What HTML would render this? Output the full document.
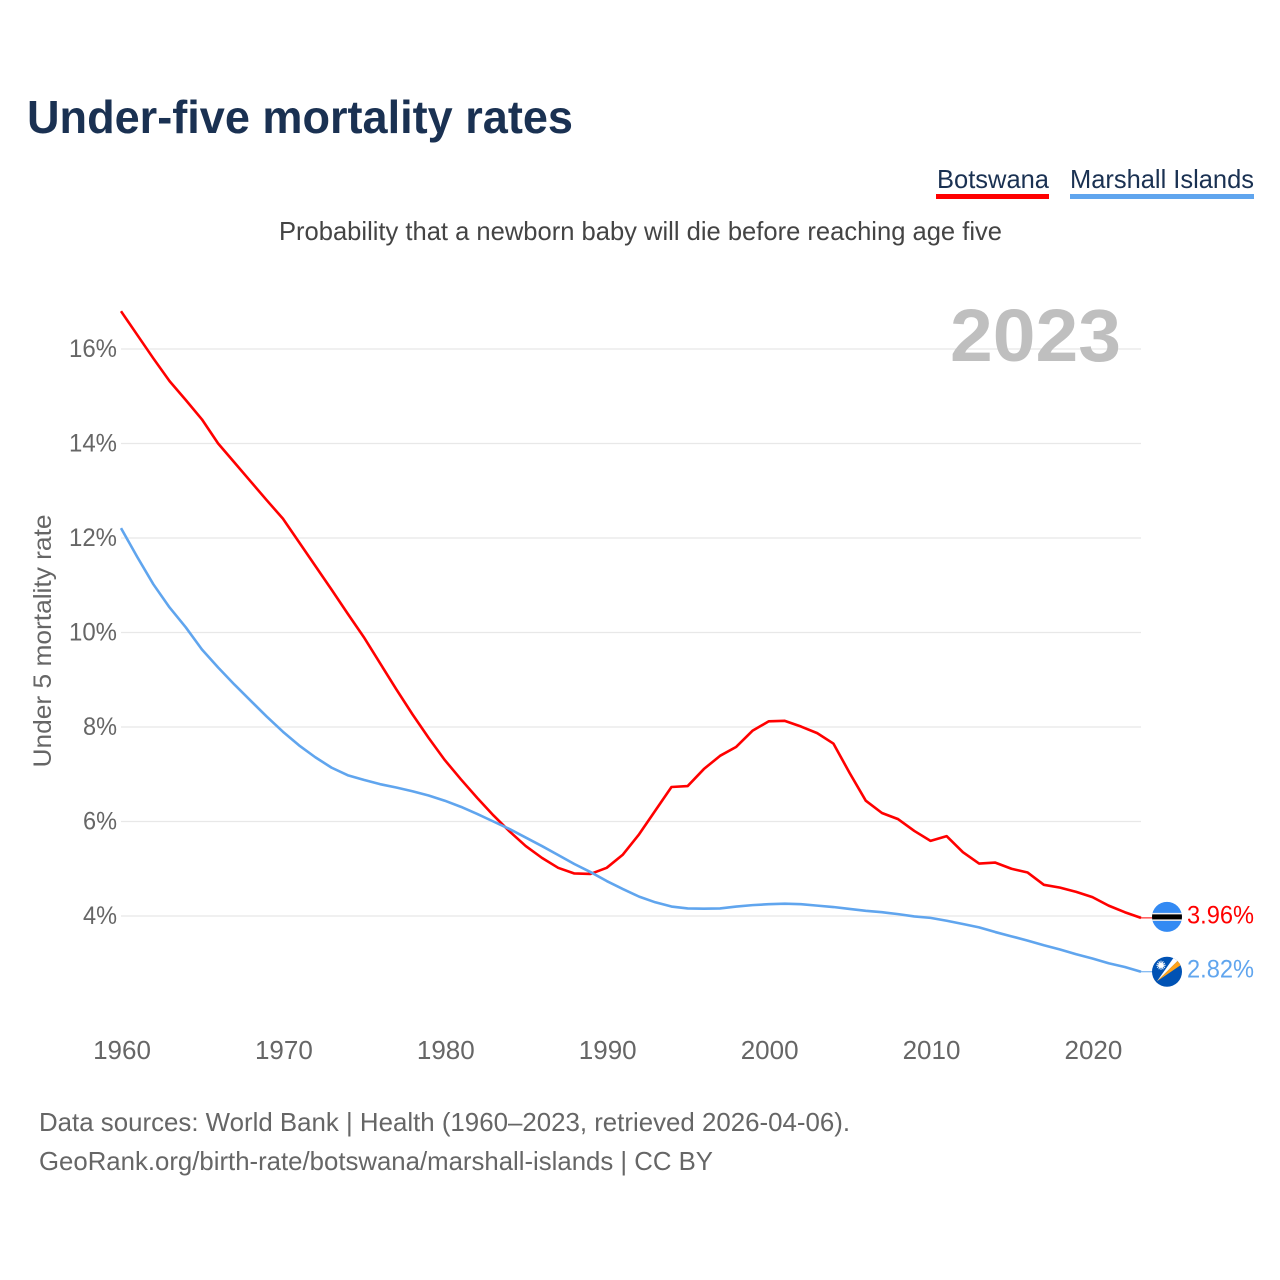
<!DOCTYPE html>
<html lang="en">
<head>
<meta charset="utf-8">
<title>Under-five mortality rates</title>
<style>
html,body{margin:0;padding:0;background:#fff;}
svg{display:block;font-family:"Liberation Sans",sans-serif;}
</style>
</head>
<body>
<svg id="chart" width="1280" height="1280" viewBox="0 0 1280 1280" xmlns="http://www.w3.org/2000/svg">
  <defs>
    <clipPath id="clip-bw"><circle id="clip-bw-c" cx="1167" cy="917" r="15"></circle></clipPath>
    <clipPath id="clip-mh"><circle id="clip-mh-c" cx="1167" cy="971" r="15"></circle></clipPath>
  </defs>
  <rect width="1280" height="1280" fill="#fff"></rect>
  <text x="27" y="133" font-size="46" font-weight="700" fill="#1a3152" textLength="546" lengthAdjust="spacingAndGlyphs">Under-five mortality rates</text>
  <g>
    <g style="cursor:pointer">
      <text x="937" y="188" font-size="26" fill="#1a3152" textLength="112" lengthAdjust="spacingAndGlyphs">Botswana</text>
      <rect x="936" y="194" width="113" height="5" fill="#ff0000"></rect>
    </g>
    <g style="cursor:pointer">
      <text x="1070" y="188" font-size="26" fill="#1a3152" textLength="184" lengthAdjust="spacingAndGlyphs">Marshall Islands</text>
      <rect x="1070" y="194" width="184" height="5" fill="#60a5ee"></rect>
    </g>
  </g>
  <text x="279" y="240" font-size="26" fill="#444444" textLength="723" lengthAdjust="spacingAndGlyphs">Probability that a newborn baby will die before reaching age five</text>
  <g id="grid"></g>
  <g id="yticks"></g>
  <g id="xticks"></g>
  <text transform="translate(51 641) rotate(-90)" text-anchor="middle" font-size="25" fill="#666666" textLength="253" lengthAdjust="spacingAndGlyphs">Under 5 mortality rate</text>
  <text x="950" y="361" font-size="74" font-weight="700" fill="#bfbfbf" textLength="171" lengthAdjust="spacingAndGlyphs">2023</text>
  <g id="series"></g>
  <g id="ends"></g>
  <text x="39" y="1131" font-size="26" fill="#666666" textLength="811" lengthAdjust="spacingAndGlyphs">Data sources: World Bank | Health (1960–2023, retrieved 2026-04-06).</text>
  <text x="39" y="1170" font-size="26" fill="#666666" textLength="674" lengthAdjust="spacingAndGlyphs">GeoRank.org/birth-rate/botswana/marshall-islands | CC BY</text>
</svg>
<script>
const startYear = 1960;
const botswanaValues = [16.80,16.30,15.80,15.32,14.92,14.51,14.00,13.60,13.20,12.80,12.41,11.91,11.41,10.91,10.40,9.90,9.35,8.80,8.27,7.77,7.30,6.89,6.50,6.13,5.79,5.48,5.23,5.02,4.90,4.89,5.02,5.30,5.73,6.23,6.73,6.75,7.11,7.39,7.58,7.92,8.12,8.13,8.01,7.87,7.65,7.03,6.44,6.18,6.05,5.80,5.59,5.69,5.35,5.11,5.13,5.00,4.92,4.66,4.60,4.51,4.40,4.22,4.08,3.96];
const marshallValues = [12.21,11.60,11.02,10.53,10.11,9.64,9.26,8.90,8.56,8.22,7.90,7.61,7.36,7.14,6.98,6.88,6.79,6.72,6.64,6.55,6.44,6.31,6.16,6.00,5.84,5.66,5.48,5.29,5.10,4.93,4.74,4.57,4.41,4.29,4.20,4.16,4.155,4.16,4.20,4.23,4.25,4.26,4.25,4.22,4.19,4.15,4.11,4.08,4.04,3.99,3.96,3.90,3.83,3.76,3.66,3.57,3.48,3.38,3.29,3.19,3.10,3.00,2.92,2.82];
const yTickValues = [4,6,8,10,12,14,16];
const xTickYears = [1960,1970,1980,1990,2000,2010,2020];

const NS = 'http://www.w3.org/2000/svg';
function xScale(year){ return 121 + (year - 1960) * (1020 / 63); }
function yScale(v){ return 916 - (v - 4) * 47.25; }
function make(tag, parent, attrs){
  const el = document.createElementNS(NS, tag);
  for (const k in attrs) el.setAttribute(k, attrs[k]);
  parent.appendChild(el);
  return el;
}
const gridG = document.getElementById('grid');
const yG = document.getElementById('yticks');
const xG = document.getElementById('xticks');
const seriesG = document.getElementById('series');
const endsG = document.getElementById('ends');

yTickValues.forEach(function(v){
  const line = make('line', gridG, {x1: xScale(1960), x2: xScale(2023), y1: yScale(v), y2: yScale(v), stroke: '#e8e8e8', 'stroke-width': 1.3});
  
  
  const t = make('text', yG, {x: 117, y: yScale(v) + 8, 'text-anchor': 'end', 'font-size': 25, fill: '#666666', textLength: v >= 10 ? 48 : 34, lengthAdjust: 'spacingAndGlyphs'});
  t.textContent = v + '%';
  
  
});
xTickYears.forEach(function(yr){
  const t = make('text', xG, {x: xScale(yr) + 1, y: 1059, 'text-anchor': 'middle', 'font-size': 26, fill: '#666666'});
  t.textContent = String(yr);
  
  
});

function drawSeries(values, color, key){
  const pts = values.map(function(v, i){ return xScale(startYear + i).toFixed(2) + ',' + yScale(v).toFixed(2); }).join(' ');
  const line = make('polyline', seriesG, {points: pts, fill: 'none', stroke: color, 'stroke-width': 2.6, 'stroke-linejoin': 'round'});
  
  
  const lastV = values[values.length - 1];
  const lastX = xScale(startYear + values.length - 1);
  const ly = yScale(lastV);
  const tail = make('line', seriesG, {x1: lastX, x2: lastX + 12, y1: ly, y2: ly, stroke: color, 'stroke-width': 1});
  
  
  const label = make('text', endsG, {x: 1187, y: ly + 5.5, 'font-size': 25, fill: color, textLength: 67, lengthAdjust: 'spacingAndGlyphs'});
  label.textContent = lastV.toFixed(2) + '%';
  
  
  return ly;
}
const bwY = drawSeries(botswanaValues, '#ff0000', 'botswana');
const mhY = drawSeries(marshallValues, '#60a5ee', 'marshall-islands');

/* Botswana flag */
const cx = 1167;
document.getElementById('clip-bw-c').setAttribute('cy', bwY - 1);
const bw = make('g', endsG, {'clip-path': 'url(#clip-bw)'});


make('rect', bw, {x: cx - 16, y: bwY - 17, width: 32, height: 32, fill: '#338af3'});
make('rect', bw, {x: cx - 16, y: bwY - 5, width: 32, height: 8, fill: '#f0f0f0'});
make('rect', bw, {x: cx - 16, y: bwY - 3.5, width: 32, height: 5, fill: '#000000'});

/* Marshall Islands flag */
document.getElementById('clip-mh-c').setAttribute('cy', mhY);
const mh = make('g', endsG, {'clip-path': 'url(#clip-mh)'});


make('rect', mh, {x: cx - 16, y: mhY - 16, width: 32, height: 32, fill: '#0052b4'});
make('polygon', mh, {points: [cx-10, mhY+9.5, cx+7.3, mhY-15, cx+12.3, mhY-12.5].join(' '), fill: '#ffffff'});
make('polygon', mh, {points: [cx-10, mhY+9.5, cx+12.3, mhY-12.5, cx+15, mhY-7.5].join(' '), fill: '#ffa31a'});
make('circle', mh, {cx: cx - 6, cy: mhY - 6.5, r: 2.6, fill: '#ffffff'});
for (let a = 0; a < 12; a++) {
  const r = a * Math.PI / 6;
  make('line', mh, {x1: cx - 6, y1: mhY - 6.5, x2: cx - 6 + 4.6 * Math.cos(r), y2: mhY - 6.5 + 4.6 * Math.sin(r), stroke: '#ffffff', 'stroke-width': 0.9});
}
</script>
</body>
</html>
